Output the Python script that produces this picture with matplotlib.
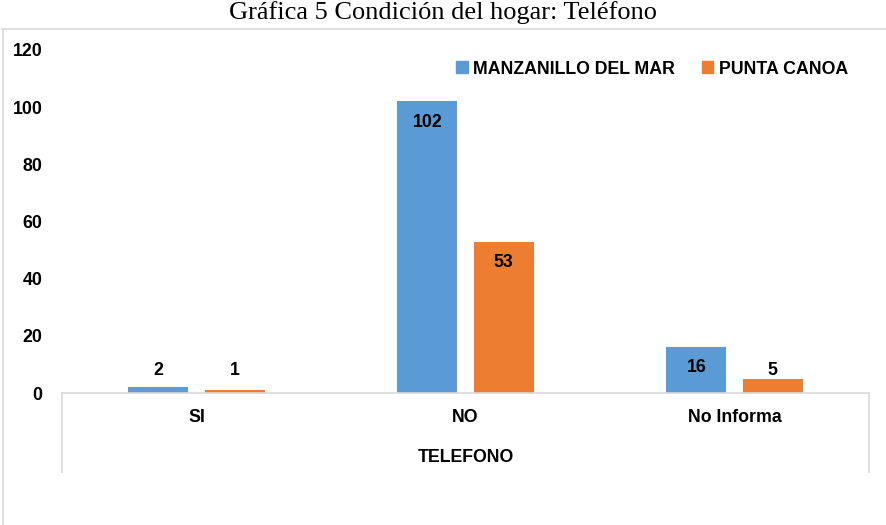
import matplotlib.pyplot as plt
from matplotlib.patches import Patch
from matplotlib.lines import Line2D
import numpy as np

# data
categories = ["SI", "NO", "No Informa"]
manzanillo = [2, 102, 16]
punta_canoa = [1, 53, 5]
series_names = ["MANZANILLO DEL MAR", "PUNTA CANOA"]
yticks = [0, 20, 40, 60, 80, 100, 120]

blue = "#5B9BD5"
orange = "#ED7D31"
grid_gray = "#D9D9D9"

plt.rcParams["font.family"] = ["Liberation Sans", "DejaVu Sans"]
fs = 12.8

fig = plt.figure(figsize=(8.86, 5.25), dpi=100)
W, H = 886, 525
ax = fig.add_axes([62 / W, 132 / H, (869 - 62) / W, (393 - 50) / H])

x = np.arange(len(categories))
width = 0.223
off = 0.142
ax.bar(x - off, manzanillo, width, color=blue, label=series_names[0])
ax.bar(x + off, punta_canoa, width, color=orange, label=series_names[1])

# value labels: inside the bar end, pushed above for short bars
for xs, vals in ((x - off, manzanillo), (x + off, punta_canoa)):
    for xi, v in zip(xs, vals):
        ax.text(xi, max(v - 7.2, 7.8), str(v), ha="center", va="center",
                fontsize=fs, fontweight="bold", color="black")

ax.set_xlim(-0.5, 2.5)
ax.set_ylim(0, 120)
ax.set_yticks(yticks)
ax.set_yticklabels([str(t) for t in yticks], fontsize=fs, fontweight="bold")
ax.tick_params(axis="y", length=0, pad=14)
ax.set_xticks([])

for s in ("top", "right", "left"):
    ax.spines[s].set_visible(False)
ax.spines["bottom"].set_color(grid_gray)
ax.spines["bottom"].set_linewidth(1.2)

# category table below the axis
drop = -(472 - 393) / (393 - 50)
trans = ax.get_xaxis_transform()
for xe in (-0.5, 2.5):
    ax.add_line(Line2D([xe, xe], [0, drop], transform=trans, color=grid_gray,
                       lw=1.2, clip_on=False))
for xi, cat in zip(x, categories):
    ax.text(xi, -(418 - 393) / 343, cat, transform=trans, ha="center",
            va="center", fontsize=fs, fontweight="bold")
ax.text(1, -(457 - 393) / 343, "TELEFONO", transform=trans, ha="center",
        va="center", fontsize=fs, fontweight="bold")

# legend
handles = [Patch(color=blue), Patch(color=orange)]
leg = fig.legend(handles, series_names, loc="center right",
                 bbox_to_anchor=(864 / W, 1 - 69 / H), ncol=2, frameon=False,
                 handlelength=0.65, handleheight=0.65, handletextpad=0.3,
                 columnspacing=1.5, prop={"size": fs, "weight": "bold"})

# chart border (top and left visible)
fig.add_artist(Line2D([2 / W, 1], [1 - 29 / H, 1 - 29 / H],
                      transform=fig.transFigure, color=grid_gray, lw=1.2))
fig.add_artist(Line2D([2.5 / W, 2.5 / W], [0, 1 - 29 / H],
                      transform=fig.transFigure, color=grid_gray, lw=1.2))

fig.text(443 / W, 1 - 13 / H, "Gráfica 5 Condición del hogar: Teléfono",
         ha="center", va="center", fontsize=19,
         family=["Liberation Serif", "DejaVu Serif"])

fig.savefig("out.png", dpi=100, facecolor="white")
